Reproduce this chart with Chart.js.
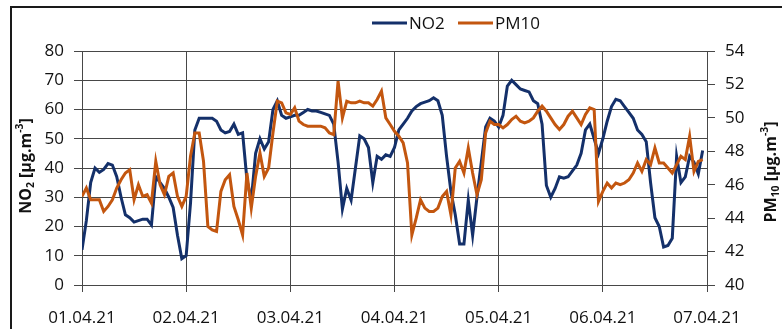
<!DOCTYPE html>
<html>
<head>
<meta charset="utf-8">
<script src="https://cdn.jsdelivr.net/npm/chart.js@4/dist/chart.umd.min.js"></script>
<style>
  body { margin: 0; background: #fff; }
  canvas { display: block; }
</style>
</head>
<body>
<canvas id="airChart" width="782" height="329"></canvas>
<script>
// dates on the x axis, one tick per day (values are hourly)
const dateLabels = ['01.04.21', '02.04.21', '03.04.21', '04.04.21', '05.04.21', '06.04.21', '07.04.21'];

// NO2 [µg.m-3], hourly, one line per day
const no2 = [
  12, 22, 35, 40, 38.5, 39.5, 41.5, 41, 37, 30, 24, 23, 21.5, 22, 22.5, 22.5, 20.5, 37, 35, 33, 30, 26.5, 17, 9,
  10, 28, 53, 57, 57, 57, 57, 56, 53, 52, 52.5, 55, 51.5, 52, 36, 29, 45, 50, 46.5, 49, 60, 63, 58, 57,
  57.5, 58, 58, 59, 60, 59.5, 59.5, 59, 58.5, 58, 55, 42, 26, 33, 29, 40, 51, 50, 47, 35, 44, 43, 44.5, 44,
  47, 53, 55, 57, 59.5, 61, 62, 62.5, 63, 64, 63, 58, 44, 32, 24, 14, 14, 29, 17, 30, 42, 54, 57, 56,
  54, 58, 68, 70, 68.5, 67, 66.5, 66, 63, 62, 55, 34, 30, 33, 37, 36.5, 37, 39, 41, 45, 53, 55, 50, 45,
  50, 56, 61, 63.5, 63, 61, 59, 57, 53, 51.5, 49, 35, 23, 20, 13, 13.5, 16, 44, 35, 37, 44, 42, 38, 46
];

// PM10 [µg.m-3], hourly
const pm10 = [
  45.3, 45.8, 45.1, 45.1, 45.1, 44.4, 44.7, 45.1, 45.8, 46.3, 46.7, 46.9, 45.1, 46.0, 45.3, 45.4, 44.9, 47.4, 46.0, 45.4, 46.5, 46.7, 45.3, 44.7,
  45.3, 47.7, 49.1, 49.1, 47.4, 43.5, 43.3, 43.2, 45.6, 46.3, 46.6, 44.7, 43.9, 43.0, 46.7, 44.6, 46.5, 47.9, 46.5, 47.0, 49.1, 51.0, 50.9, 50.3,
  50.2, 50.6, 49.8, 49.6, 49.5, 49.5, 49.5, 49.5, 49.4, 49.1, 49.0, 52.2, 50.0, 51.0, 50.9, 50.9, 51.0, 50.9, 50.9, 50.7, 51.1, 51.6, 50.0, 49.6,
  49.2, 48.9, 48.5, 47.3, 43.0, 44.0, 45.1, 44.6, 44.4, 44.4, 44.6, 45.3, 45.6, 44.2, 47.0, 47.4, 46.7, 48.2, 46.7, 45.4, 46.3, 49.1, 49.8, 49.6,
  49.6, 49.4, 49.6, 49.9, 50.1, 49.8, 49.7, 49.8, 50.0, 50.4, 50.7, 50.4, 50.0, 49.6, 49.3, 49.6, 50.1, 50.4, 50.0, 49.6, 50.2, 50.6, 50.5, 45.0,
  45.6, 46.1, 45.8, 46.1, 46.0, 46.1, 46.3, 46.7, 47.3, 46.8, 47.5, 47.2, 48.2, 47.3, 47.3, 47.0, 46.7, 47.2, 47.7, 47.5, 48.9, 46.8, 47.4, 47.5
];

const no2Color = '#14306a';
const pm10Color = '#c3560f';
const gridColor = '#474747';
const fontFamily = "'Open Sans', 'DejaVu Sans', sans-serif";

// draws a short text made of parts (normal / sub / sup), centered at 0,0
function drawRichText(ctx, parts, size) {
  let total = 0;
  parts.forEach(p => {
    ctx.font = 'bold ' + (p.small ? size * 0.65 : size) + 'px ' + fontFamily;
    p.w = ctx.measureText(p.t).width;
    total += p.w;
  });
  let x = -total / 2;
  parts.forEach(p => {
    ctx.font = 'bold ' + (p.small ? size * 0.65 : size) + 'px ' + fontFamily;
    ctx.fillText(p.t, x, p.dy || 0);
    x += p.w;
  });
}

const decorPlugin = {
  id: 'decor',
  beforeDraw(chart) {
    const ctx = chart.ctx;
    ctx.save();
    ctx.fillStyle = '#fff';
    ctx.fillRect(0, 0, chart.width, chart.height);
    ctx.restore();
  },
  afterDraw(chart) {
    const ctx = chart.ctx;
    ctx.save();
    // outer frame (only top and left edges visible)
    ctx.strokeStyle = '#1a1a1a';
    ctx.lineWidth = 2;
    ctx.strokeRect(11, 7, 900, 500);

    // legend
    ctx.lineWidth = 3;
    ctx.font = '17px ' + fontFamily;
    ctx.textBaseline = 'middle';
    ctx.fillStyle = '#111';
    ctx.strokeStyle = no2Color;
    ctx.beginPath(); ctx.moveTo(372, 23); ctx.lineTo(407, 23); ctx.stroke();
    ctx.fillText(chart.data.datasets[0].label, 409, 24);
    ctx.strokeStyle = pm10Color;
    ctx.beginPath(); ctx.moveTo(458, 23); ctx.lineTo(493, 23); ctx.stroke();
    ctx.fillText(chart.data.datasets[1].label, 495, 24);

    // axis titles, both reading bottom to top
    ctx.textBaseline = 'middle';
    ctx.save();
    ctx.translate(26, 166);
    ctx.rotate(-Math.PI / 2);
    drawRichText(ctx, [
      { t: 'NO' }, { t: '2', small: true, dy: 5 }, { t: ' [µg.m' }, { t: '-3', small: true, dy: -6 }, { t: ']' }
    ], 16);
    ctx.restore();

    ctx.save();
    ctx.translate(771, 172);
    ctx.rotate(-Math.PI / 2);
    drawRichText(ctx, [
      { t: 'PM' }, { t: '10', small: true, dy: 5 }, { t: ' [µg.m' }, { t: '-3', small: true, dy: -6 }, { t: ']' }
    ], 16);
    ctx.restore();

    ctx.restore();
  }
};

const ctx = document.getElementById('airChart').getContext('2d');
const airChart = new Chart(ctx, {
  type: 'line',
  data: {
    datasets: [
      {
        label: 'NO2',
        data: no2.map((v, i) => ({ x: i, y: v })),
        borderColor: no2Color,
        borderWidth: 3,
        pointRadius: 0,
        tension: 0,
        yAxisID: 'y',
        order: 1,
      },
      {
        label: 'PM10',
        data: pm10.map((v, i) => ({ x: i, y: v })),
        borderColor: pm10Color,
        borderWidth: 3,
        pointRadius: 0,
        tension: 0,
        yAxisID: 'y1',
        order: 0,
      },
    ],
  },
  options: {
    responsive: false,
    animation: false,
    layout: { padding: { top: 51, left: 0, right: 0, bottom: 0 } },
    plugins: {
      legend: { display: false },
      tooltip: { enabled: false },
    },
    scales: {
      x: {
        type: 'linear',
        min: 0,
        max: 144,
        afterFit: s => { s.height = 44; },
        grid: { color: gridColor, lineWidth: 1, tickLength: 7 },
        border: { color: gridColor },
        ticks: {
          stepSize: 24,
          autoSkip: false,
          maxRotation: 0,
          padding: 16,
          color: '#111',
          font: { family: fontFamily, size: 17 },
          callback: v => (v % 24 === 0 ? dateLabels[v / 24] : ''),
        },
      },
      y: {
        position: 'left',
        min: 0,
        max: 80,
        afterFit: s => { s.width = 82; },
        grid: { color: gridColor, lineWidth: 1, tickLength: 8 },
        border: { color: gridColor },
        ticks: {
          stepSize: 10,
          padding: 10,
          color: '#111',
          font: { family: fontFamily, size: 17 },
        },
      },
      y1: {
        position: 'right',
        min: 40,
        max: 54,
        afterFit: s => { s.width = 75; },
        grid: { drawOnChartArea: false, color: gridColor, tickLength: 8 },
        border: { color: gridColor },
        ticks: {
          stepSize: 2,
          padding: 10,
          color: '#111',
          font: { family: fontFamily, size: 17 },
        },
      },
    },
  },
  plugins: [decorPlugin],
});
</script>
</body>
</html>
